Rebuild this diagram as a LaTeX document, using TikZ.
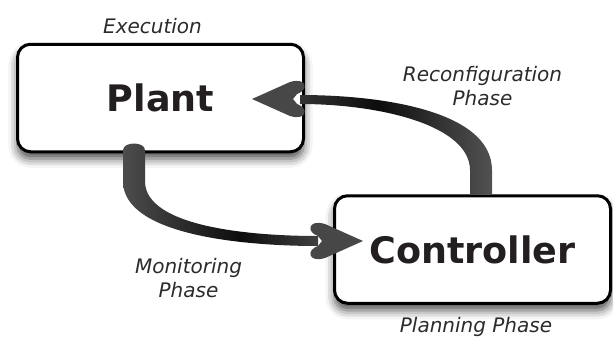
\documentclass[tikz,border=0pt]{standalone}
\usepackage{fontspec}
\setmainfont{DejaVu Sans}
\usetikzlibrary{calc,shadows.blur}

\definecolor{ink}{HTML}{231F20}
\definecolor{labelgray}{HTML}{2B2B2B}

% darker in the middle of each bend
\pgfdeclarehorizontalshading{monshade}{100bp}{color(0bp)=(black!70); color(25bp)=(black!70);
  color(55bp)=(black!95); color(75bp)=(black!75); color(100bp)=(black!75)}
\pgfdeclarehorizontalshading{confshade}{100bp}{color(0bp)=(black!80); color(25bp)=(black!80);
  color(45bp)=(black!95); color(75bp)=(black!68); color(100bp)=(black!68)}

\tikzset{
  box/.style={draw=black, line width=3pt, rounded corners=13pt, fill=white,
    minimum height=107.5pt, text=ink,
    font=\bfseries\fontsize{36.5}{40}\selectfont,
    blur shadow={shadow xshift=0pt, shadow yshift=-7pt, shadow blur radius=9pt, shadow opacity=70}},
  phase/.style={text=labelgray, align=center, font=\itshape\fontsize{20}{24}\selectfont},
  monflow/.style={shading=monshade},
  confflow/.style={shading=confshade},
  head/.pic={\fill[black!72] (0,0) -- (-38,-17) .. controls (-55,-22) and (-57,-9) .. (-45,-5)
    -- (-41,0) -- (-45,5) .. controls (-57,9) and (-55,22) .. (-38,17) -- cycle;}
}

\begin{document}
\begin{tikzpicture}[x=1pt, y=-1pt]
    \useasboundingbox (0,0) rectangle (613,338);

    % Boxes
    \node[box, minimum width=286pt] (plant) at (160.5,98) {Plant};
    \node[box, minimum width=276pt] (controller) at (472.5,249.5) {Controller};

    % Phase labels
    \node[phase, anchor=base] (exec) at (152.5,33) {Execution};
    \node[phase] (reconf) at (482.5,86.5) {Reconfiguration\\Phase};
    \node[phase] (monit) at (188.5,278.5) {Monitoring\\Phase};
    \node[phase, anchor=base] (plan) at (476,332) {Planning Phase};

    % Arrow ends
    \coordinate (mon tail) at ([xshift=-26.5pt]plant.south);
    \coordinate (mon tip) at ([xshift=30pt,yshift=8.5pt]controller.west);
    \coordinate (conf tail) at ([xshift=8.5pt]controller.north);
    \coordinate (conf tip) at ([xshift=-53pt,yshift=-1pt]plant.east);

    % Monitoring: plant -> controller
    \shade[monflow] ($(mon tail)+(-11,-3)$) -- ++(0,31)
        .. controls +(0,55) and +(-70,0) .. ($(mon tip)+(-45,5)$) -- ++(0,-10)
        .. controls +(-70,0) and +(0,45) .. ($(mon tail)+(11,28)$) -- ++(0,-31)
        .. controls +(0,-9) and +(0,-9) .. ($(mon tail)+(-11,-3)$) -- cycle;
    \pic at (mon tip) {head};

    % Reconfiguration: controller -> plant
    \shade[confflow] ($(conf tail)+(11,0)$) -- ++(0,-24)
        .. controls +(0,-60) and +(80,0) .. ($(conf tip)+(48,-4)$) -- ++(0,9)
        .. controls +(80,0) and +(0,-45) .. ($(conf tail)+(-11,-24)$) -- ++(0,24) -- cycle;
    \pic[xscale=-1] at (conf tip) {head};

\end{tikzpicture}
\end{document}
